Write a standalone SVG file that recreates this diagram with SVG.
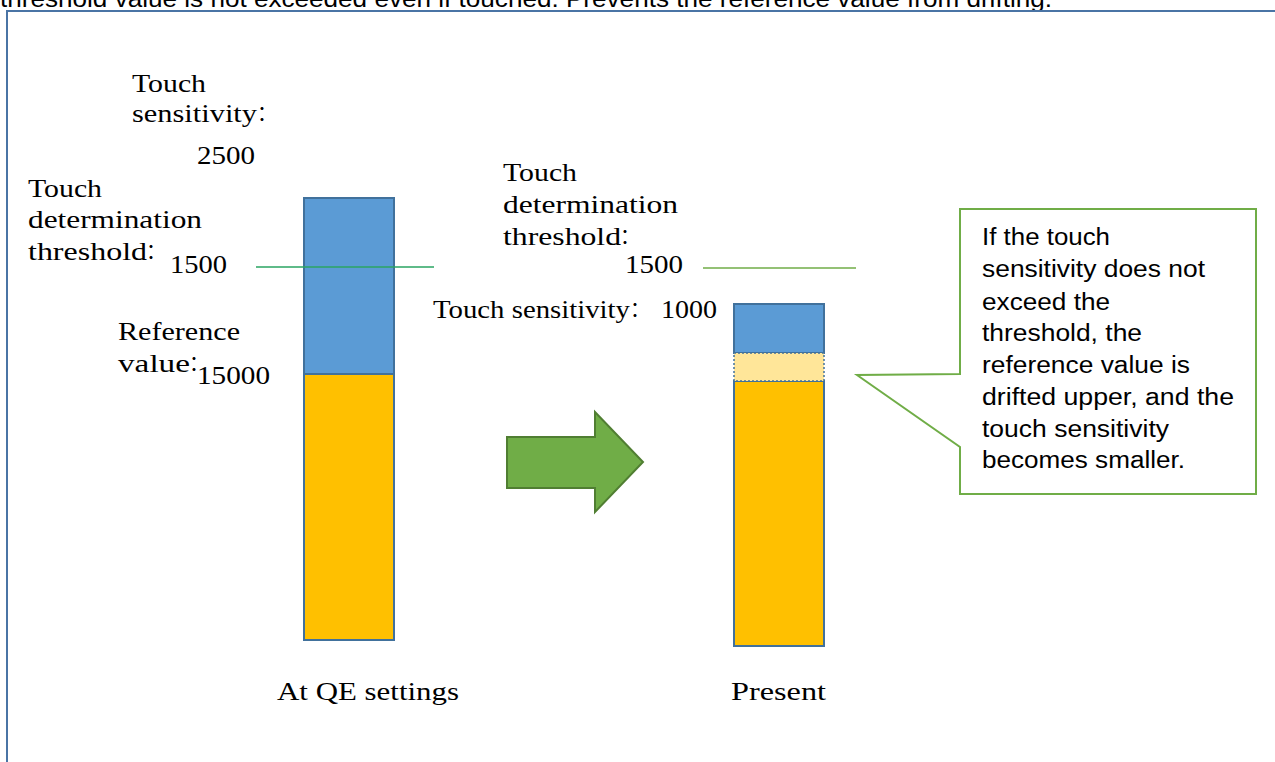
<svg xmlns="http://www.w3.org/2000/svg" width="1275" height="762" viewBox="0 0 1275 762">
<style>
.sf{font-family:"Liberation Serif","Noto Sans CJK JP",serif;font-size:26px;fill:#000}
.ss{font-family:"Liberation Sans",Arial,sans-serif;font-size:23px;fill:#000}
.cl{font-family:"Noto Sans CJK JP",sans-serif;font-size:20px}
.blue{fill:#5b9bd5;stroke:#41719c;stroke-width:2}
.orange{fill:#ffc000;stroke:#41719c;stroke-width:2}
</style>
<rect width="1275" height="762" fill="#fff"/>
<g id="caption-top">
<text class="ss" x="0" y="7" textLength="1052" lengthAdjust="spacingAndGlyphs">threshold value is not exceeded even if touched. Prevents the reference value from drifting.</text>
</g>
<g id="frame">
<path d="M7,770 V11 H1280" fill="none" stroke="#4a74a5" stroke-width="2"/>
</g>
<g id="bar-qe">
<rect class="orange" x="304" y="374" width="90" height="266"/>
<rect class="blue" x="304" y="198" width="90" height="176"/>
</g>
<g id="bar-present">
<rect class="orange" x="734" y="381" width="90" height="265"/>
<rect class="blue" x="734" y="304" width="90" height="49"/>
<rect x="734" y="353" width="90" height="28" fill="#ffe699" stroke="#41719c" stroke-width="1.5" stroke-dasharray="2 2"/>
</g>
<g id="connectors">
<line x1="256" y1="267" x2="434" y2="267" stroke="#2aa462" stroke-width="1.5"/>
<line x1="703" y1="268" x2="856" y2="268" stroke="#70ad47" stroke-width="1.5"/>
</g>
<g id="arrow">
<polygon points="507,437 595,437 595,412 643,462 595,512 595,488 507,488" fill="#70ad47" stroke="#507e32" stroke-width="2"/>
</g>
<g id="labels-qe">
<text class="sf" x="132" y="92" textLength="74" lengthAdjust="spacingAndGlyphs">Touch</text>
<text class="sf" x="132" y="122"><tspan textLength="125" lengthAdjust="spacingAndGlyphs">sensitivity</tspan><tspan class="cl" dx="-5">：</tspan></text>
<text class="sf" x="197" y="164" textLength="58" lengthAdjust="spacingAndGlyphs">2500</text>
<text class="sf" x="28" y="197" textLength="74" lengthAdjust="spacingAndGlyphs">Touch</text>
<text class="sf" x="28" y="228" textLength="174" lengthAdjust="spacingAndGlyphs">determination</text>
<text class="sf" x="28" y="260"><tspan textLength="119" lengthAdjust="spacingAndGlyphs">threshold</tspan><tspan class="cl" dx="-6">：</tspan></text>
<text class="sf" x="170" y="273" textLength="57" lengthAdjust="spacingAndGlyphs">1500</text>
<text class="sf" x="118" y="340" textLength="122" lengthAdjust="spacingAndGlyphs">Reference</text>
<text class="sf" x="118" y="372"><tspan textLength="72" lengthAdjust="spacingAndGlyphs">value</tspan><tspan class="cl" dx="-6">：</tspan></text>
<text class="sf" x="197" y="384" textLength="73" lengthAdjust="spacingAndGlyphs">15000</text>
<text class="sf" x="277" y="700" textLength="182" lengthAdjust="spacingAndGlyphs">At QE settings</text>
</g>
<g id="labels-present">
<text class="sf" x="503" y="181" textLength="74" lengthAdjust="spacingAndGlyphs">Touch</text>
<text class="sf" x="503" y="213" textLength="175" lengthAdjust="spacingAndGlyphs">determination</text>
<text class="sf" x="503" y="245"><tspan textLength="118" lengthAdjust="spacingAndGlyphs">threshold</tspan><tspan class="cl" dx="-6">：</tspan></text>
<text class="sf" x="625" y="273" textLength="58" lengthAdjust="spacingAndGlyphs">1500</text>
<text class="sf" x="433" y="318"><tspan textLength="197" lengthAdjust="spacingAndGlyphs">Touch sensitivity</tspan><tspan class="cl" dx="-5">：</tspan><tspan x="661" textLength="56" lengthAdjust="spacingAndGlyphs">1000</tspan></text>
<text class="sf" x="731" y="700" textLength="95" lengthAdjust="spacingAndGlyphs">Present</text>
</g>
<g id="callout">
<path d="M960,209 H1256 V494 H960 V447 L857,375 L960,374 Z" fill="#fff" stroke="#70ad47" stroke-width="2"/>
<text class="ss" x="982" y="245" textLength="128" lengthAdjust="spacingAndGlyphs">If the touch</text>
<text class="ss" x="982" y="277" textLength="223" lengthAdjust="spacingAndGlyphs">sensitivity does not</text>
<text class="ss" x="982" y="310" textLength="128" lengthAdjust="spacingAndGlyphs">exceed the</text>
<text class="ss" x="982" y="341" textLength="160" lengthAdjust="spacingAndGlyphs">threshold, the</text>
<text class="ss" x="982" y="373" textLength="208" lengthAdjust="spacingAndGlyphs">reference value is</text>
<text class="ss" x="982" y="405" textLength="252" lengthAdjust="spacingAndGlyphs">drifted upper, and the</text>
<text class="ss" x="982" y="437" textLength="187" lengthAdjust="spacingAndGlyphs">touch sensitivity</text>
<text class="ss" x="982" y="468" textLength="203" lengthAdjust="spacingAndGlyphs">becomes smaller.</text>
</g>
</svg>
